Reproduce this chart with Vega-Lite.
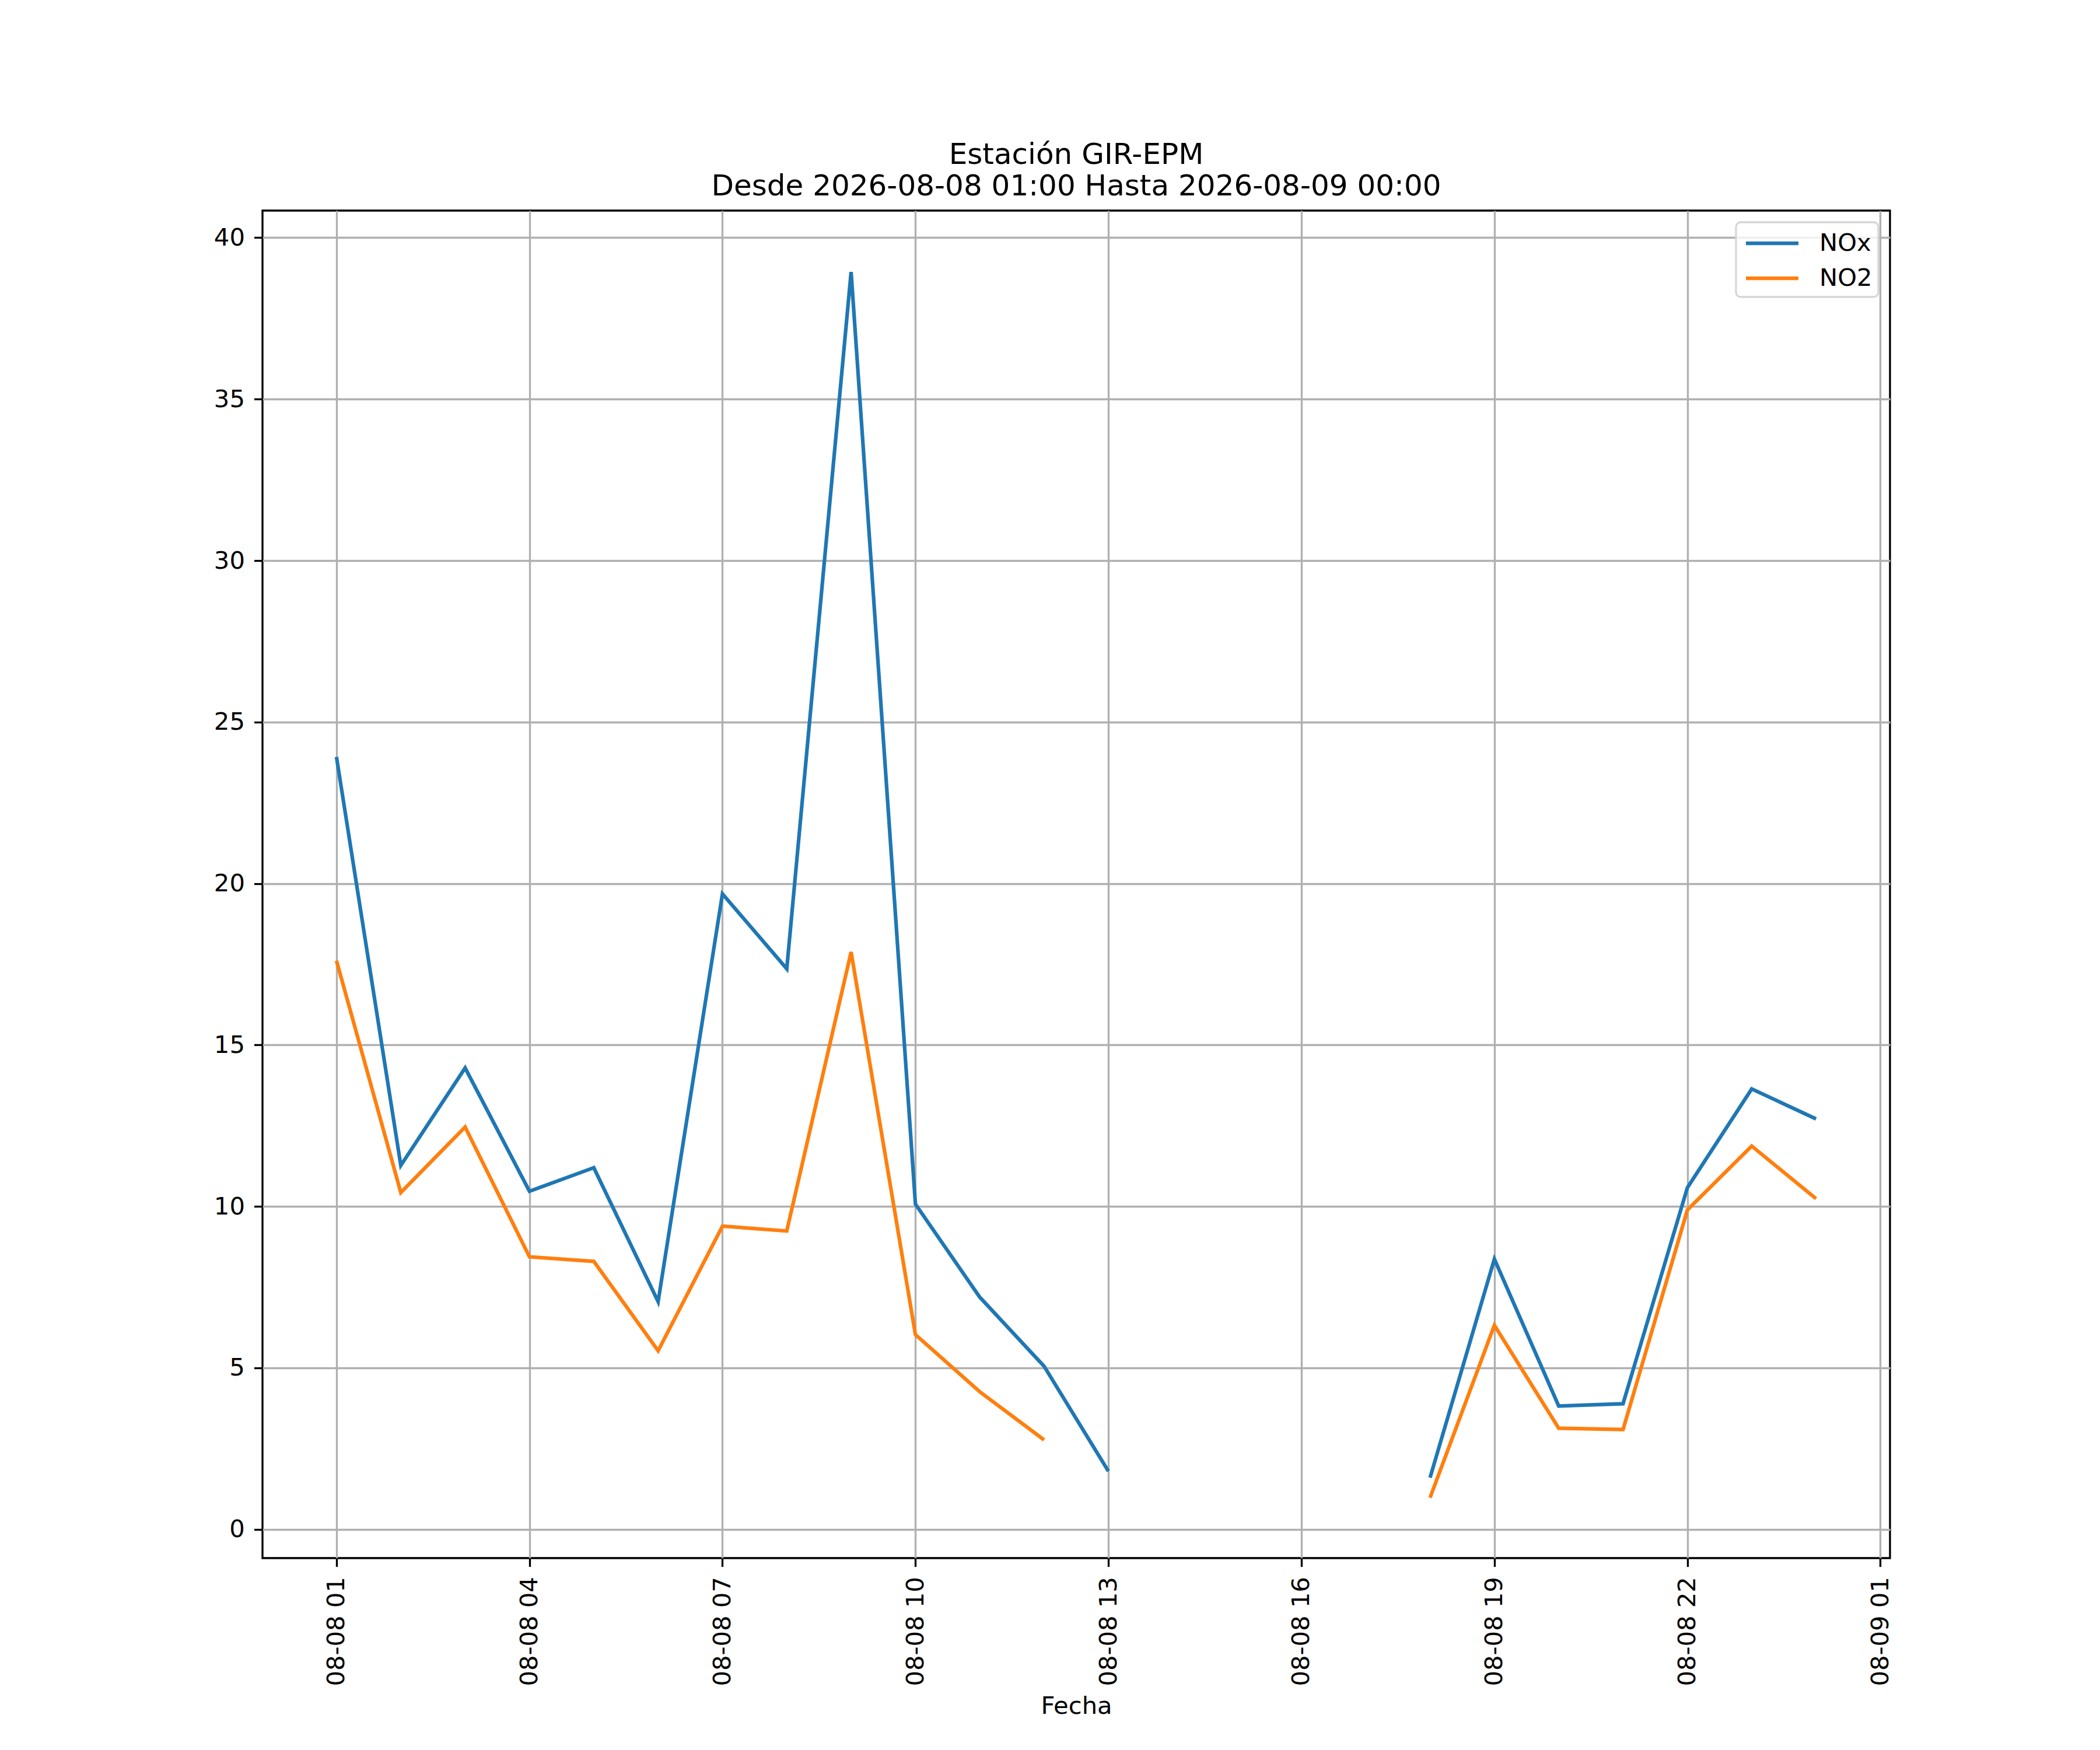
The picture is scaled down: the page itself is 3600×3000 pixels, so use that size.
{
  "$schema": "https://vega.github.io/schema/vega-lite/v6.json",
  "width": 2790,
  "height": 2310,
  "autosize": {"type": "none"},
  "padding": {"left": 450, "top": 361, "right": 360, "bottom": 329},
  "background": "white",
  "title": {
    "text": ["Estación GIR-EPM", "Desde 2026-08-08 01:00 Hasta 2026-08-09 00:00"],
    "font": "DejaVu Sans",
    "fontSize": 50,
    "fontWeight": "normal",
    "lineHeight": 54,
    "anchor": "middle",
    "frame": "group",
    "offset": 16,
    "color": "black"
  },
  "config": {
    "view": {"stroke": "black", "strokeWidth": 3.33},
    "axis": {
      "labelFont": "DejaVu Sans",
      "labelFontSize": 41.7,
      "labelColor": "black",
      "labelLimit": 600,
      "titleFont": "DejaVu Sans",
      "titleFontSize": 41.7,
      "titleFontWeight": "normal",
      "titleColor": "black",
      "domain": false,
      "grid": true,
      "gridColor": "#b0b0b0",
      "gridWidth": 3.33,
      "tickColor": "black",
      "tickWidth": 3.33,
      "tickSize": 14.6
    },
    "legend": {
      "orient": "top-right",
      "offset": 20,
      "padding": 10,
      "rowPadding": 12,
      "strokeColor": "#d6d6d6",
      "strokeWidth": 3.3,
      "cornerRadius": 8,
      "fillColor": "rgba(255,255,255,0.8)",
      "symbolType": "M-2,0H2",
      "symbolSize": 2025,
      "symbolStrokeWidth": 6.25,
      "symbolOffset": 26,
      "labelOffset": 55,
      "labelFont": "DejaVu Sans",
      "labelFontSize": 41.7,
      "labelColor": "black"
    }
  },
  "data": {
    "values": [
      {"fecha": "2026-08-08T01:00:00Z", "serie": "NOx", "valor": 23.92},
      {"fecha": "2026-08-08T02:00:00Z", "serie": "NOx", "valor": 11.27},
      {"fecha": "2026-08-08T03:00:00Z", "serie": "NOx", "valor": 14.29},
      {"fecha": "2026-08-08T04:00:00Z", "serie": "NOx", "valor": 10.47},
      {"fecha": "2026-08-08T05:00:00Z", "serie": "NOx", "valor": 11.2},
      {"fecha": "2026-08-08T06:00:00Z", "serie": "NOx", "valor": 7.05},
      {"fecha": "2026-08-08T07:00:00Z", "serie": "NOx", "valor": 19.68},
      {"fecha": "2026-08-08T08:00:00Z", "serie": "NOx", "valor": 17.36},
      {"fecha": "2026-08-08T09:00:00Z", "serie": "NOx", "valor": 38.94},
      {"fecha": "2026-08-08T10:00:00Z", "serie": "NOx", "valor": 10.07},
      {"fecha": "2026-08-08T11:00:00Z", "serie": "NOx", "valor": 7.19},
      {"fecha": "2026-08-08T12:00:00Z", "serie": "NOx", "valor": 5.05},
      {"fecha": "2026-08-08T13:00:00Z", "serie": "NOx", "valor": 1.8},
      {"fecha": "2026-08-08T14:00:00Z", "serie": "NOx", "valor": null},
      {"fecha": "2026-08-08T15:00:00Z", "serie": "NOx", "valor": null},
      {"fecha": "2026-08-08T16:00:00Z", "serie": "NOx", "valor": null},
      {"fecha": "2026-08-08T17:00:00Z", "serie": "NOx", "valor": null},
      {"fecha": "2026-08-08T18:00:00Z", "serie": "NOx", "valor": 1.6},
      {"fecha": "2026-08-08T19:00:00Z", "serie": "NOx", "valor": 8.37},
      {"fecha": "2026-08-08T20:00:00Z", "serie": "NOx", "valor": 3.82},
      {"fecha": "2026-08-08T21:00:00Z", "serie": "NOx", "valor": 3.89},
      {"fecha": "2026-08-08T22:00:00Z", "serie": "NOx", "valor": 10.58},
      {"fecha": "2026-08-08T23:00:00Z", "serie": "NOx", "valor": 13.64},
      {"fecha": "2026-08-09T00:00:00Z", "serie": "NOx", "valor": 12.71},
      {"fecha": "2026-08-08T01:00:00Z", "serie": "NO2", "valor": 17.61},
      {"fecha": "2026-08-08T02:00:00Z", "serie": "NO2", "valor": 10.43},
      {"fecha": "2026-08-08T03:00:00Z", "serie": "NO2", "valor": 12.46},
      {"fecha": "2026-08-08T04:00:00Z", "serie": "NO2", "valor": 8.44},
      {"fecha": "2026-08-08T05:00:00Z", "serie": "NO2", "valor": 8.3},
      {"fecha": "2026-08-08T06:00:00Z", "serie": "NO2", "valor": 5.53},
      {"fecha": "2026-08-08T07:00:00Z", "serie": "NO2", "valor": 9.39},
      {"fecha": "2026-08-08T08:00:00Z", "serie": "NO2", "valor": 9.24},
      {"fecha": "2026-08-08T09:00:00Z", "serie": "NO2", "valor": 17.88},
      {"fecha": "2026-08-08T10:00:00Z", "serie": "NO2", "valor": 6.03},
      {"fecha": "2026-08-08T11:00:00Z", "serie": "NO2", "valor": 4.26},
      {"fecha": "2026-08-08T12:00:00Z", "serie": "NO2", "valor": 2.77},
      {"fecha": "2026-08-08T13:00:00Z", "serie": "NO2", "valor": null},
      {"fecha": "2026-08-08T14:00:00Z", "serie": "NO2", "valor": null},
      {"fecha": "2026-08-08T15:00:00Z", "serie": "NO2", "valor": null},
      {"fecha": "2026-08-08T16:00:00Z", "serie": "NO2", "valor": null},
      {"fecha": "2026-08-08T17:00:00Z", "serie": "NO2", "valor": null},
      {"fecha": "2026-08-08T18:00:00Z", "serie": "NO2", "valor": 0.98},
      {"fecha": "2026-08-08T19:00:00Z", "serie": "NO2", "valor": 6.32},
      {"fecha": "2026-08-08T20:00:00Z", "serie": "NO2", "valor": 3.13},
      {"fecha": "2026-08-08T21:00:00Z", "serie": "NO2", "valor": 3.09},
      {"fecha": "2026-08-08T22:00:00Z", "serie": "NO2", "valor": 9.89},
      {"fecha": "2026-08-08T23:00:00Z", "serie": "NO2", "valor": 11.87},
      {"fecha": "2026-08-09T00:00:00Z", "serie": "NO2", "valor": 10.24}
    ]
  },
  "mark": {"type": "line", "strokeWidth": 6.25, "invalid": "break-paths-show-domains"},
  "encoding": {
    "x": {
      "field": "fecha",
      "type": "temporal",
      "scale": {
        "type": "utc",
        "nice": false,
        "domain": [
          {"year": 2026, "month": 8, "date": 7, "hours": 23, "minutes": 51, "utc": true},
          {"year": 2026, "month": 8, "date": 9, "hours": 1, "minutes": 9, "utc": true}
        ]
      },
      "axis": {
        "title": "Fecha",
        "titleY": 266,
        "titleBaseline": "alphabetic",
        "labelExpr": "utcFormat(datum.value, '%m-%d %H')",
        "labelAngle": 270,
        "labelPadding": 17,
        "values": [
          {"year": 2026, "month": 8, "date": 8, "hours": 1, "utc": true},
          {"year": 2026, "month": 8, "date": 8, "hours": 4, "utc": true},
          {"year": 2026, "month": 8, "date": 8, "hours": 7, "utc": true},
          {"year": 2026, "month": 8, "date": 8, "hours": 10, "utc": true},
          {"year": 2026, "month": 8, "date": 8, "hours": 13, "utc": true},
          {"year": 2026, "month": 8, "date": 8, "hours": 16, "utc": true},
          {"year": 2026, "month": 8, "date": 8, "hours": 19, "utc": true},
          {"year": 2026, "month": 8, "date": 8, "hours": 22, "utc": true},
          {"year": 2026, "month": 8, "date": 9, "hours": 1, "utc": true}
        ]
      }
    },
    "y": {
      "field": "valor",
      "type": "quantitative",
      "scale": {"domain": [-0.89, 40.84], "nice": false, "zero": false},
      "axis": {
        "title": null,
        "labelPadding": 16,
        "values": [0, 5, 10, 15, 20, 25, 30, 35, 40]
      }
    },
    "color": {
      "field": "serie",
      "type": "nominal",
      "scale": {"domain": ["NOx", "NO2"], "range": ["#1f77b4", "#ff7f0e"]},
      "legend": {"title": null}
    }
  }
}
